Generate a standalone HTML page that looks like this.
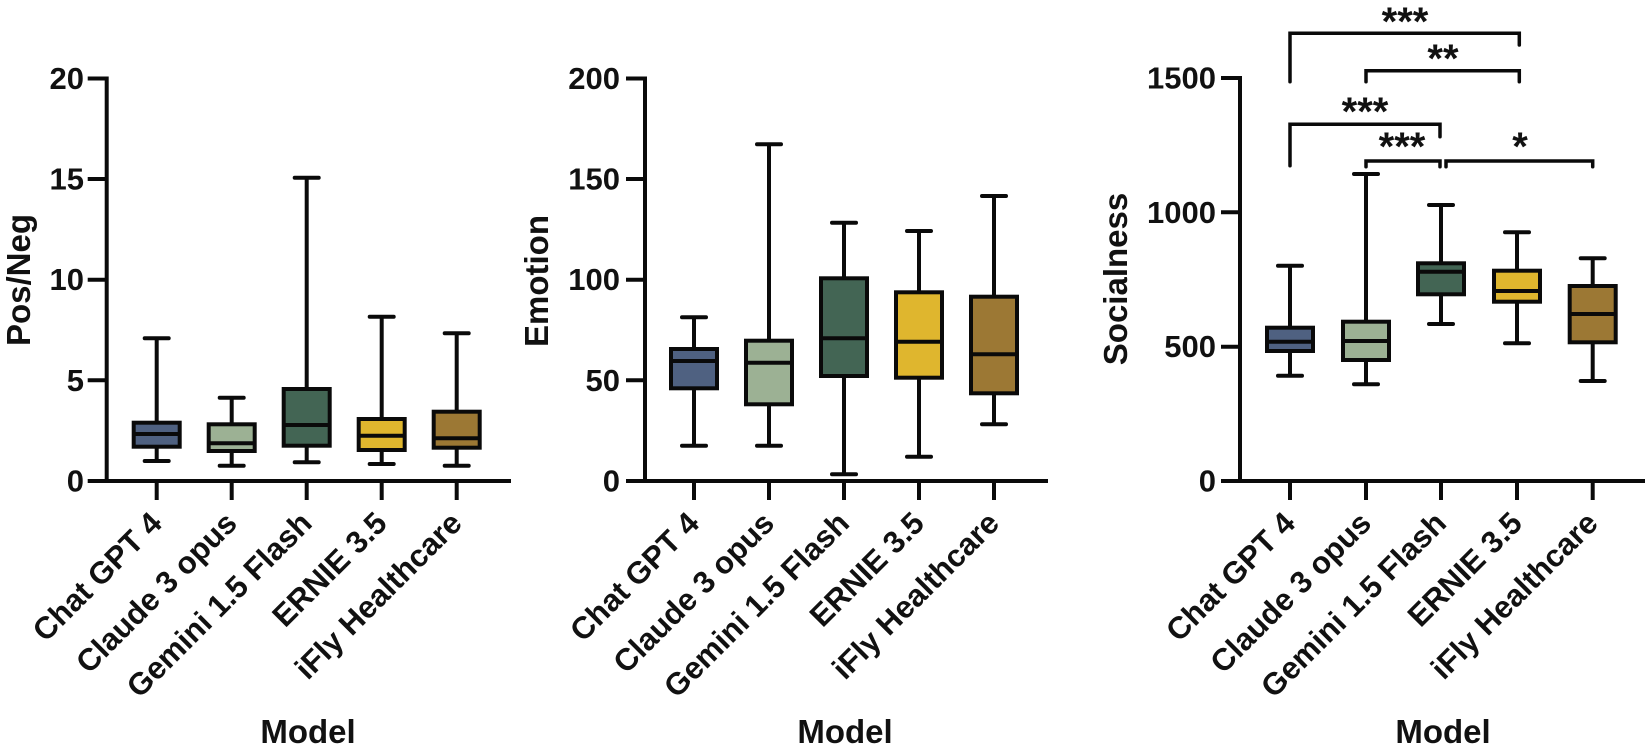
<!DOCTYPE html>
<html>
<head>
<meta charset="utf-8">
<style>
html,body{margin:0;padding:0;background:#fff;}
svg{display:block;}
text{font-family:"Liberation Sans",Arial,sans-serif;font-weight:bold;fill:#111;}
.tk{font-size:31px;}
.cat{font-size:31px;}
.ttl{font-size:33px;}
.st{font-size:40px;}
.ax{stroke:#0a0a0a;stroke-width:4;fill:none;stroke-linecap:square;}
.w{stroke:#0a0a0a;stroke-width:4;fill:none;}
.cap{stroke:#0a0a0a;stroke-width:4;stroke-linecap:round;}
.bx{stroke:#0a0a0a;stroke-width:4;}
.br{stroke:#0a0a0a;stroke-width:3.5;fill:none;stroke-linecap:round;stroke-linejoin:miter;}
</style>
</head>
<body>
<svg width="1647" height="747" viewBox="0 0 1647 747" xmlns="http://www.w3.org/2000/svg">

<!-- ================= PANEL 1 ================= -->
<g>
  <path class="ax" d="M89.7,78.5 H106.7 V481 M89.7,179 H106.7 M89.7,279.7 H106.7 M89.7,380.3 H106.7 M89.7,481 H509"/>
  <path class="ax" d="M156.7,481 V498 M231.7,481 V498 M306.7,481 V498 M381.7,481 V498 M456.7,481 V498"/>
  <text class="tk" x="84" y="89" text-anchor="end">20</text>
  <text class="tk" x="84" y="189.5" text-anchor="end">15</text>
  <text class="tk" x="84" y="290.2" text-anchor="end">10</text>
  <text class="tk" x="84" y="390.8" text-anchor="end">5</text>
  <text class="tk" x="84" y="491.5" text-anchor="end">0</text>
  <text class="ttl" transform="translate(30,280) rotate(-90)" text-anchor="middle">Pos/Neg</text>

  <!-- ChatGPT -->
  <path class="w" d="M156.7,338.3 V422.7 M156.7,446.7 V461"/>
  <path class="cap" d="M144.7,338.3 H168.7 M144.7,461 H168.7"/>
  <rect class="bx" x="133.7" y="422.7" width="46" height="24" fill="#4f6181"/>
  <path class="w" d="M133.7,434 H179.7"/>
  <!-- Claude -->
  <path class="w" d="M231.7,397.7 V424.3 M231.7,451 V465.7"/>
  <path class="cap" d="M219.7,397.7 H243.7 M219.7,465.7 H243.7"/>
  <rect class="bx" x="208.7" y="424.3" width="46" height="26.7" fill="#9cb194"/>
  <path class="w" d="M208.7,443.3 H254.7"/>
  <!-- Gemini -->
  <path class="w" d="M306.7,177.7 V389 M306.7,445.7 V462.3"/>
  <path class="cap" d="M294.7,177.7 H318.7 M294.7,462.3 H318.7"/>
  <rect class="bx" x="283.7" y="389" width="46" height="56.7" fill="#436554"/>
  <path class="w" d="M283.7,425 H329.7"/>
  <!-- ERNIE -->
  <path class="w" d="M381.7,316.7 V419 M381.7,450 V464"/>
  <path class="cap" d="M369.7,316.7 H393.7 M369.7,464 H393.7"/>
  <rect class="bx" x="358.7" y="419" width="46" height="31" fill="#dfb62e"/>
  <path class="w" d="M358.7,435.7 H404.7"/>
  <!-- iFly -->
  <path class="w" d="M456.7,333.3 V411.7 M456.7,447.7 V465.7"/>
  <path class="cap" d="M444.7,333.3 H468.7 M444.7,465.7 H468.7"/>
  <rect class="bx" x="433.7" y="411.7" width="46" height="36" fill="#9c7834"/>
  <path class="w" d="M433.7,438.3 H479.7"/>

  <text class="cat" x="163.7" y="525" text-anchor="end" transform="rotate(-45 163.7 525)">Chat GPT 4</text>
  <text class="cat" x="238.7" y="525" text-anchor="end" transform="rotate(-45 238.7 525)">Claude 3 opus</text>
  <text class="cat" x="313.7" y="525" text-anchor="end" transform="rotate(-45 313.7 525)">Gemini 1.5 Flash</text>
  <text class="cat" x="388.7" y="525" text-anchor="end" transform="rotate(-45 388.7 525)">ERNIE 3.5</text>
  <text class="cat" x="463.7" y="525" text-anchor="end" transform="rotate(-45 463.7 525)">iFly Healthcare</text>
  <text class="ttl" x="308" y="743" text-anchor="middle">Model</text>
</g>

<!-- ================= PANEL 2 ================= -->
<g>
  <path class="ax" d="M628,78.5 H645 V481 M628,179 H645 M628,279.7 H645 M628,380.3 H645 M628,481 H1046"/>
  <path class="ax" d="M694,481 V498 M769,481 V498 M844,481 V498 M919,481 V498 M994,481 V498"/>
  <text class="tk" x="620" y="89" text-anchor="end">200</text>
  <text class="tk" x="620" y="189.5" text-anchor="end">150</text>
  <text class="tk" x="620" y="290.2" text-anchor="end">100</text>
  <text class="tk" x="620" y="390.8" text-anchor="end">50</text>
  <text class="tk" x="620" y="491.5" text-anchor="end">0</text>
  <text class="ttl" transform="translate(548,281) rotate(-90)" text-anchor="middle">Emotion</text>

  <!-- ChatGPT -->
  <path class="w" d="M694,317.3 V349 M694,388.3 V445.7"/>
  <path class="cap" d="M682,317.3 H706 M682,445.7 H706"/>
  <rect class="bx" x="671" y="349" width="46" height="39.3" fill="#4f6181"/>
  <path class="w" d="M671,361 H717"/>
  <!-- Claude -->
  <path class="w" d="M769,144.3 V340.7 M769,404.3 V445.7"/>
  <path class="cap" d="M757,144.3 H781 M757,445.7 H781"/>
  <rect class="bx" x="746" y="340.7" width="46" height="63.6" fill="#9cb194"/>
  <path class="w" d="M746,362.7 H792"/>
  <!-- Gemini -->
  <path class="w" d="M844,222.7 V278.3 M844,376 V474.3"/>
  <path class="cap" d="M832,222.7 H856 M832,474.3 H856"/>
  <rect class="bx" x="821" y="278.3" width="46" height="97.7" fill="#436554"/>
  <path class="w" d="M821,338.3 H867"/>
  <!-- ERNIE -->
  <path class="w" d="M919,231 V292.3 M919,377.7 V456.7"/>
  <path class="cap" d="M907,231 H931 M907,456.7 H931"/>
  <rect class="bx" x="896" y="292.3" width="46" height="85.4" fill="#dfb62e"/>
  <path class="w" d="M896,341.7 H942"/>
  <!-- iFly -->
  <path class="w" d="M994,196 V296.7 M994,393.3 V424.3"/>
  <path class="cap" d="M982,196 H1006 M982,424.3 H1006"/>
  <rect class="bx" x="971" y="296.7" width="46" height="96.6" fill="#9c7834"/>
  <path class="w" d="M971,354.3 H1017"/>

  <text class="cat" x="701" y="525" text-anchor="end" transform="rotate(-45 701 525)">Chat GPT 4</text>
  <text class="cat" x="776" y="525" text-anchor="end" transform="rotate(-45 776 525)">Claude 3 opus</text>
  <text class="cat" x="851" y="525" text-anchor="end" transform="rotate(-45 851 525)">Gemini 1.5 Flash</text>
  <text class="cat" x="926" y="525" text-anchor="end" transform="rotate(-45 926 525)">ERNIE 3.5</text>
  <text class="cat" x="1001" y="525" text-anchor="end" transform="rotate(-45 1001 525)">iFly Healthcare</text>
  <text class="ttl" x="845" y="743" text-anchor="middle">Model</text>
</g>

<!-- ================= PANEL 3 ================= -->
<g>
  <path class="ax" d="M1223,78 H1240 V481 M1223,212.3 H1240 M1223,346.7 H1240 M1223,481 H1643"/>
  <path class="ax" d="M1290,481 V498 M1366,481 V498 M1441,481 V498 M1517,481 V498 M1592.7,481 V498"/>
  <text class="tk" x="1216" y="88.5" text-anchor="end">1500</text>
  <text class="tk" x="1216" y="222.8" text-anchor="end">1000</text>
  <text class="tk" x="1216" y="357.2" text-anchor="end">500</text>
  <text class="tk" x="1216" y="491.5" text-anchor="end">0</text>
  <text class="ttl" transform="translate(1127,279) rotate(-90)" text-anchor="middle">Socialness</text>

  <!-- ChatGPT -->
  <path class="w" d="M1290,265.7 V327.7 M1290,351 V375.7"/>
  <path class="cap" d="M1278,265.7 H1302 M1278,375.7 H1302"/>
  <rect class="bx" x="1267" y="327.7" width="46" height="23.3" fill="#4f6181"/>
  <path class="w" d="M1267,341.7 H1313"/>
  <!-- Claude -->
  <path class="w" d="M1366,174 V321.7 M1366,360 V384.3"/>
  <path class="cap" d="M1354,174 H1378 M1354,384.3 H1378"/>
  <rect class="bx" x="1343" y="321.7" width="46" height="38.3" fill="#9cb194"/>
  <path class="w" d="M1343,341 H1389"/>
  <!-- Gemini -->
  <path class="w" d="M1441,205 V263.3 M1441,294.3 V324"/>
  <path class="cap" d="M1429,205 H1453 M1429,324 H1453"/>
  <rect class="bx" x="1418" y="263.3" width="46" height="31" fill="#436554"/>
  <path class="w" d="M1418,271.7 H1464"/>
  <!-- ERNIE -->
  <path class="w" d="M1517,232.3 V270.7 M1517,301.7 V343.3"/>
  <path class="cap" d="M1505,232.3 H1529 M1505,343.3 H1529"/>
  <rect class="bx" x="1494" y="270.7" width="46" height="31" fill="#dfb62e"/>
  <path class="w" d="M1494,291 H1540"/>
  <!-- iFly -->
  <path class="w" d="M1592.7,258.3 V286 M1592.7,342.3 V381"/>
  <path class="cap" d="M1580.7,258.3 H1604.7 M1580.7,381 H1604.7"/>
  <rect class="bx" x="1569.7" y="286" width="46" height="56.3" fill="#9c7834"/>
  <path class="w" d="M1569.7,314 H1615.7"/>

  <!-- significance brackets -->
  <path class="br" d="M1290,81.7 V33.3 H1519.3 V45"/>
  <path class="br" d="M1366,81.7 V70.7 H1519.3 V81.7"/>
  <path class="br" d="M1290,165.7 V124.3 H1440 V136.7"/>
  <path class="br" d="M1366,166.7 V161 H1440 V166.7"/>
  <path class="br" d="M1446,166.7 V161 H1592.7 V166.7"/>
  <text class="st" x="1405" y="35" text-anchor="middle">***</text>
  <text class="st" x="1443" y="72" text-anchor="middle">**</text>
  <text class="st" x="1365" y="125" text-anchor="middle">***</text>
  <text class="st" x="1402" y="160" text-anchor="middle">***</text>
  <text class="st" x="1520" y="160" text-anchor="middle">*</text>

  <text class="cat" x="1297" y="525" text-anchor="end" transform="rotate(-45 1297 525)">Chat GPT 4</text>
  <text class="cat" x="1373" y="525" text-anchor="end" transform="rotate(-45 1373 525)">Claude 3 opus</text>
  <text class="cat" x="1448" y="525" text-anchor="end" transform="rotate(-45 1448 525)">Gemini 1.5 Flash</text>
  <text class="cat" x="1524" y="525" text-anchor="end" transform="rotate(-45 1524 525)">ERNIE 3.5</text>
  <text class="cat" x="1599.7" y="525" text-anchor="end" transform="rotate(-45 1599.7 525)">iFly Healthcare</text>
  <text class="ttl" x="1443" y="743" text-anchor="middle">Model</text>
</g>
</svg>
</body>
</html>
